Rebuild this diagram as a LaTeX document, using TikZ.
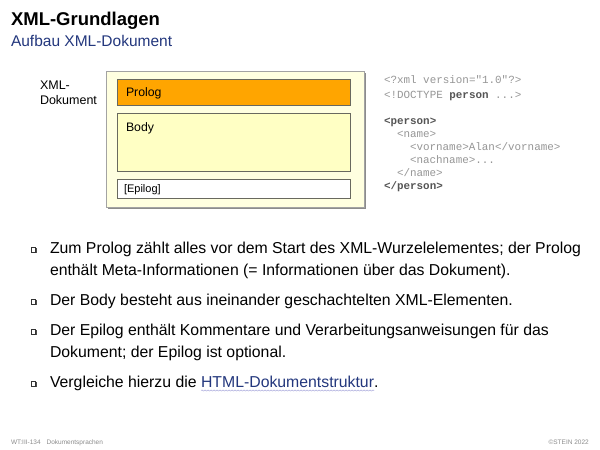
\documentclass[tikz,border=0pt]{standalone}
\usepackage{fontspec}
\setmainfont{Liberation Sans}
\setmonofont{Liberation Mono}
\usetikzlibrary{decorations.pathmorphing}
\definecolor{subblue}{RGB}{35,55,125}
\definecolor{codegray}{RGB}{150,150,150}
\definecolor{codedark}{RGB}{85,85,85}
\definecolor{outerfill}{RGB}{255,255,224}
\definecolor{bodyfill}{RGB}{255,255,196}
\definecolor{prologfill}{RGB}{255,165,0}
\definecolor{boxline}{RGB}{105,105,95}
\definecolor{shadowgray}{RGB}{140,140,140}
\definecolor{footgray}{RGB}{140,140,140}
\definecolor{wavy}{RGB}{170,170,220}
\tikzset{
  txt/.style={anchor=base west,inner sep=0pt,outer sep=0pt},
  partbox/.style={draw=boxline,line width=1pt,anchor=north west,inner sep=0pt,minimum width=233pt},
  bodytxt/.style={txt,font=\fontsize{15.8}{18}\selectfont},
  codetxt/.style={txt,text=codegray,font=\fontsize{10.9}{13}\ttfamily},
  bulletbox/.style={draw=black!80,fill=white,line width=0.6pt,minimum size=4.6pt,inner sep=0pt}
}
\newcommand{\bulletmark}[2]{%
  \fill[black!70] (#1+1.2,#2+1.2) rectangle ++(5,-5);
  \node[bulletbox] (#1b#2) at (#1+2.3,#2-2.3) {};}
\begin{document}
\begin{tikzpicture}[x=1pt,y=-1pt]
\useasboundingbox[fill=white] (0,0) rectangle (600,450);
% title
\node[txt,font=\fontsize{18.5}{20}\selectfont\bfseries] (title) at (11,25) {XML-Grundlagen};
\node[txt,font=\fontsize{15.5}{18}\selectfont,text=subblue] (sub) at (11,46) {Aufbau XML-Dokument};
% document diagram
\fill[shadowgray] (108,73) rectangle (365.5,208.5);
\node[draw=shadowgray!80,line width=1pt,fill=outerfill,anchor=north west,inner sep=0pt,minimum width=258pt,minimum height=136pt] (doc) at (106,71) {};
\node[txt,font=\fontsize{12.5}{15}\selectfont] (lab1) at (40,89) {XML-};
\node[txt,font=\fontsize{12.5}{15}\selectfont] (lab2) at (40,104) {Dokument};
\node[partbox,fill=prologfill,minimum height=26pt] (prolog) at (117,79) {};
\node[partbox,fill=bodyfill,minimum height=58pt] (body) at (117,113) {};
\node[partbox,fill=white,minimum height=19pt] (epilog) at (117,179) {};
\node[txt,font=\fontsize{12.3}{15}\selectfont] (prologt) at (126,96) {Prolog};
\node[txt,font=\fontsize{12.3}{15}\selectfont] (bodyt) at (126,131) {Body};
\node[txt,font=\fontsize{11}{13}\selectfont] (epilogt) at (124,192) {[Epilog]};
% code
\node[codetxt] (c1) at (384,83) {<?xml version="1.0"?>};
\node[codetxt] (c2) at (384,98) {<!DOCTYPE \textcolor{codedark}{\bfseries person} ...>};
\node[codetxt,text=codedark] (c3) at (384,124) {\bfseries <person>};
\node[codetxt] (c4) at (397,137) {<name>};
\node[codetxt] (c5) at (410,150) {<vorname>Alan</vorname>};
\node[codetxt] (c6) at (410,163) {<nachname>...};
\node[codetxt] (c7) at (397,176) {</name>};
\node[codetxt,text=codedark] (c8) at (384,189) {\bfseries </person>};
% bullets
\bulletmark{31}{252}
\bulletmark{31}{304}
\bulletmark{31}{334}
\bulletmark{31}{386}
\node[bodytxt] (b1a) at (50,253) {Zum Prolog zählt alles vor dem Start des XML-Wurzelelementes; der Prolog};
\node[bodytxt] (b1b) at (50,275) {enthält Meta-Informationen (= Informationen über das Dokument).};
\node[bodytxt] (b2) at (50,305) {Der Body besteht aus ineinander geschachtelten XML-Elementen.};
\node[bodytxt] (b3a) at (50,335) {Der Epilog enthält Kommentare und Verarbeitungsanweisungen für das};
\node[bodytxt] (b3b) at (50,357) {Dokument; der Epilog ist optional.};
\node[bodytxt] (b4) at (50,387) {Vergleiche hierzu die};
\node[bodytxt,text=subblue,xshift=4.4pt] (link) at (b4.base east) {HTML-Dokumentstruktur};
\node[bodytxt] (b4e) at (link.base east) {.};
\draw[wavy,line width=0.5pt,decorate,decoration={snake,amplitude=0.6pt,segment length=3pt}] ([yshift=-3.5pt]link.base west) -- ([yshift=-3.5pt]link.base east);
% footer
\node[txt,text=footgray,font=\fontsize{6.5}{8}\selectfont] (f1) at (11,444) {WT:III-134\hspace{6pt}Dokumentsprachen};
\node[anchor=base east,inner sep=0pt,text=footgray,font=\fontsize{6.5}{8}\selectfont] (f2) at (589,444) {©STEIN 2022};
\end{tikzpicture}
\end{document}
